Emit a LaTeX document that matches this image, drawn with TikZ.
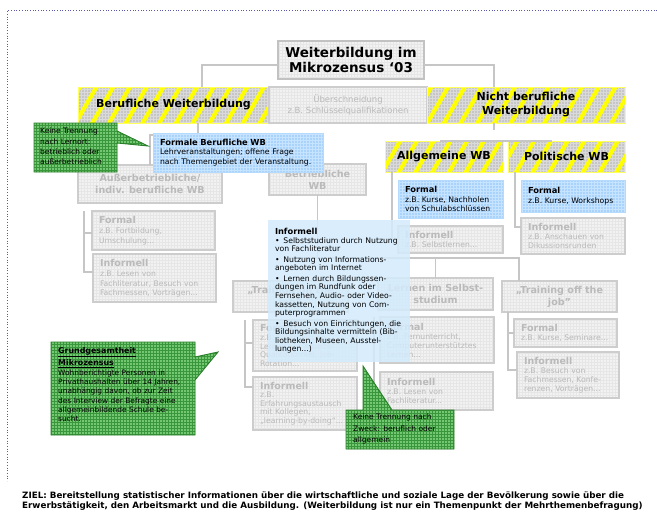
\documentclass[tikz,border=0pt]{standalone}
\usepackage{fontspec}
\setmainfont{DejaVu Sans}
\usetikzlibrary{patterns,patterns.meta,calc}
\definecolor{gfill}{HTML}{F2F2F2}
\definecolor{ggrid}{HTML}{E6E6E6}
\definecolor{gborder}{HTML}{CDCDCD}
\definecolor{gtext}{HTML}{BABABA}
\definecolor{tborder}{HTML}{C2C2C2}
\definecolor{hgray}{HTML}{C6C6C6}
\definecolor{hgrid}{HTML}{DADADA}
\definecolor{hyellow}{HTML}{FFFF00}
\definecolor{hborder}{HTML}{FFFF60}
\definecolor{bfill}{HTML}{A9D3FB}
\definecolor{bgrid}{HTML}{C6E3FF}
\definecolor{bborder}{HTML}{B4DAFD}
\definecolor{cfill}{HTML}{D3EBFC}
\definecolor{gnfill}{HTML}{74C874}
\definecolor{gngrid}{HTML}{3A963A}
\definecolor{gnborder}{HTML}{2A7D2A}
\definecolor{connc}{HTML}{C6C6C6}
\definecolor{framec}{HTML}{5A5AA8}
\newcommand\bodyfnt{\fontsize{7.7}{9.4}\selectfont}
\newcommand\ghf{\fontsize{9.5}{11}\selectfont\bfseries}
\newcommand\bhf{\fontsize{8.3}{10}\selectfont\bfseries}
\newcommand\gheadfnt{\fontsize{9.6}{12}\selectfont\bfseries}
\newcommand\hatchfnt{\fontsize{11}{14}\selectfont\bfseries}
\tikzset{
  box/.style={anchor=north west, inner xsep=7pt, inner ysep=2pt, outer sep=0pt},
  gbox/.style={box, align=left, draw=gborder, line width=1.3pt, preaction={fill=gfill}, pattern=grid, pattern color=ggrid, text=gtext, font=\bodyfnt},
  ghead/.style={box, align=center, draw=gborder, line width=1.3pt, preaction={fill=gfill}, pattern=grid, pattern color=ggrid, text=gtext, font=\gheadfnt},
  tbox/.style={box, align=center, draw=tborder, line width=1.6pt, preaction={fill=gfill}, pattern=grid, pattern color=ggrid, text=black, font=\fontsize{13.5}{15.5}\selectfont\bfseries},
  bbox/.style={box, align=left, draw=bborder, line width=0.8pt, preaction={fill=bfill}, pattern=grid, pattern color=bgrid, text=black, font=\bodyfnt},
  hbox/.style={box, align=center, draw=hborder, line width=1pt, preaction={fill=hgray}, preaction={pattern=grid, pattern color=hgrid}, pattern={Lines[angle=60,distance=14.5pt,line width=4.2pt]}, pattern color=hyellow, text=black, font=\hatchfnt},
  cbox/.style={box, align=left, fill=cfill, fill opacity=0.85, text opacity=1, text=black, font=\fontsize{7.7}{8.6}\selectfont},
  gncall/.style={draw=gnborder, line width=0.9pt, preaction={fill=gnfill}, pattern=grid, pattern color=gngrid},
  gntext/.style={anchor=north west, inner sep=0pt, align=left, text=black},
  conn/.style={draw=connc, line width=1.3pt},
}
\begin{document}
\begin{tikzpicture}[x=1pt,y=-1pt]
\useasboundingbox (0,0) rectangle (657,515);
\fill[white] (0,0) rectangle (657,515);
\draw[framec, dotted, line width=0.7pt] (657,10) -- (7.5,10) -- (7.5,481);

% boxes
\node[tbox, minimum width=146, minimum height=38] (title) at (278,41) {Weiterbildung im\\Mikrozensus ‘03};
\node[hbox, minimum width=191, minimum height=36] (berufl) at (78,87) {Berufliche Weiterbildung};
\node[ghead, font=\fontsize{8.5}{11}\selectfont, minimum width=158, minimum height=36] (ueber) at (269,87) {Überschneidung\\z.B. Schlüsselqualifikationen};
\node[hbox, minimum width=198, minimum height=36] (nb) at (427,87) {Nicht berufliche\\Weiterbildung};
\node[hbox, minimum width=118, minimum height=31] (allg) at (385,141) {Allgemeine WB};
\node[hbox, minimum width=117, minimum height=31] (pol) at (508,141) {Politische WB};

\node[ghead, minimum width=144, minimum height=38] (aus) at (78,165) {Außerbetriebliche/\\indiv. berufliche WB};
\node[ghead, minimum width=97, minimum height=31] (betr) at (269,164) {Betriebliche\\WB};
\node[gbox, minimum width=123, minimum height=39, text width=109] (ausf) at (92,211) {{\ghf Formal}\\[1pt]z.B. Fortbildung,\\Umschulung...};
\node[gbox, minimum width=123, minimum height=48, text width=109] (ausi) at (93,254) {{\ghf Informell}\\[1pt]z.B. Lesen von\\Fachliteratur, Besuch von\\Fachmessen, Vorträgen...};
\node[gbox, minimum width=105, minimum height=27, text width=91] (allgi) at (398,226) {{\ghf Informell}\\z.B. Selbstlernen...};
\node[gbox, minimum width=104, minimum height=36, text width=90] (poli) at (521,218) {{\ghf Informell}\\z.B. Anschauen von\\Dikussionsrunden};
\node[ghead, minimum width=115, minimum height=31] (onj) at (233,281) {„Training on the\\job”};
\node[ghead, minimum width=115, minimum height=32] (lern) at (378,278) {Lernen im Selbst-\\studium};
\node[ghead, minimum width=115, minimum height=31] (offj) at (502,281) {„Training off the\\job”};
\node[gbox, minimum width=104, minimum height=51, text width=90, font=\fontsize{7.7}{8.8}\selectfont] (onf) at (253,320) {{\ghf Formal}\\z.B. Einarbeitung,\\Lernen am Arbeits-\\Qualitätszirkel, Job-\\Rotation...};
\node[gbox, minimum width=104, minimum height=53, text width=90, font=\fontsize{7.7}{8.6}\selectfont] (oni) at (253,377) {{\ghf Informell}\\z.B.\\Erfahrungsaustausch\\mit Kollegen,\\„learning-by-doing“...};
\node[gbox, minimum width=114, minimum height=46, text width=100, font=\fontsize{7.7}{9}\selectfont] (lerf) at (380,317) {{\ghf Formal}\\z.B. Fernunterricht,\\Computerunterstütztes\\Lernen...};
\node[gbox, minimum width=113, minimum height=38, text width=99] (leri) at (380,372) {{\ghf Informell}\\z.B. Lesen von\\Fachliteratur...};
\node[gbox, minimum width=103, minimum height=28, text width=89] (offf) at (514,319) {{\ghf Formal}\\z.B. Kurse, Seminare...};
\node[gbox, minimum width=102, minimum height=46, text width=88, font=\fontsize{7.7}{9}\selectfont] (offi) at (517,352) {{\ghf Informell}\\z.B. Besuch von\\Fachmessen, Konfe-\\renzen, Vorträgen...};

% connectors
\draw[conn] (title.west |- 0,65) -| (berufl.north -| 202,0);
\draw[conn] (title.east |- 0,65) -| (nb.north -| 494,0);
\draw[conn] (berufl.south -| 198,0) -- (198,135);
\draw[conn] (aus.north) |- (betr.north |- 0,135) -- (betr.north);
\draw[conn] (nb.south -| 494,0) -- (494,130);
\draw[conn] (allg.north -| 440,0) |- (pol.north -| 552,130) -- (pol.north -| 552,0);
\draw[conn] (ausf.north -| 84,0) |- (ausi.west |- 0,272);
\draw[conn] (84,233) -- (ausf.west |- 0,233);
\draw[conn] (allg.south -| 392,0) |- (allgi.west |- 0,240);
\draw[conn] (pol.south -| 515,0) |- (poli.west |- 0,227);
\draw[conn] (betr.south) -- (betr.south |- 0,258);
\draw[conn] (onj.north |- 0,258) -| (offj.north -| 519,0);
\draw[conn] (lern.north) -- (lern.north |- 0,258);
\draw[conn] (onf.north -| 245,0) |- (oni.west |- 0,387);
\draw[conn] (245,343) -- (onf.west |- 0,343);
\draw[conn] (lerf.north -| 374,0) |- (leri.west |- 0,391);
\draw[conn] (374,340) -- (lerf.west |- 0,340);
\draw[conn] (offj.south -| 508,0) |- (offi.west |- 0,370);
\draw[conn] (508,333) -- (offf.west |- 0,333);

% blue boxes
\node[bbox, minimum width=170, minimum height=39, text width=156] (formber) at (153,133) {{\bhf Formale Berufliche WB}\\Lehrveranstaltungen; offene Frage\\nach Themengebiet der Veranstaltung.};
\node[bbox, minimum width=105, minimum height=38, text width=91] (allgf) at (398,180) {{\bhf Formal}\\z.B. Kurse, Nachholen\\von Schulabschlüssen};
\node[bbox, minimum width=104, minimum height=32, text width=90] (polf) at (521,180) {{\bhf Formal}\\z.B. Kurse, Workshops};

% central informal box
\node[cbox, minimum width=142, minimum height=142, text width=128] (info) at (268,220) {{\bhf Informell}\\
•\enspace Selbststudium durch Nutzung\\von Fachliteratur\\[1.8pt]
•\enspace Nutzung von Informations-\\angeboten im Internet\\[1.8pt]
•\enspace Lernen durch Bildungssen-\\dungen im Rundfunk oder\\Fernsehen, Audio- oder Video-\\kassetten, Nutzung von Com-\\puterprogrammen\\[1.8pt]
•\enspace Besuch von Einrichtungen, die\\Bildungsinhalte vermitteln (Bib-\\liotheken, Museen, Ausstel-\\lungen...)};

% callouts
\path[gncall] (34,123) -- (117,123) -- (117,131) -- (148,146) -- (117,143) -- (117,172) -- (34,172) -- cycle;
\node[gntext, font=\fontsize{7.5}{10.3}\selectfont] (c1) at (40,128) {Keine Trennung\\nach Lernort:\\betrieblich oder\\außerbetrieblich};

\path[gncall] (51,342) -- (195,342) -- (195,357) -- (218,352) -- (195,380) -- (195,435) -- (51,435) -- cycle;
\node[gntext, text width=129, font=\fontsize{7.4}{9.3}\selectfont] (c2) at (58,347) {{\fontsize{7.9}{9}\selectfont\bfseries\underline{Grundgesamtheit}}\\[1.6pt]
{\fontsize{7.9}{9}\selectfont\bfseries\underline{Mikrozensus}}\\[0.5pt]
\makebox[129pt][s]{Wohnberichtigte Personen in}\\
\makebox[129pt][s]{Privathaushalten über 14 Jahren,}\\
\makebox[129pt][s]{unabhängig davon, ob zur Zeit}\\
\makebox[129pt][s]{des Interview der Befragte eine}\\
\makebox[129pt][s]{allgemeinbildende Schule be-}\\
sucht.};

\path[gncall] (363,366) -- (392,410) -- (454,410) -- (454,449) -- (346,449) -- (346,410) -- (363,410) -- cycle;
\node[gntext, font=\fontsize{7.5}{11.5}\selectfont] (c3) at (353,414) {Keine Trennung nach\\Zweck: beruflich oder\\allgemein};

% bottom text
\node[anchor=north west, inner sep=0pt, align=left, font=\fontsize{8.75}{10}\selectfont\bfseries] (ziel) at (22,492) {ZIEL: Bereitstellung statistischer Informationen über die wirtschaftliche und soziale Lage der Bevölkerung sowie über die\\Erwerbstätigkeit, den Arbeitsmarkt und die Ausbildung. (Weiterbildung ist nur ein Themenpunkt der Mehrthemenbefragung)};
\end{tikzpicture}
\end{document}
